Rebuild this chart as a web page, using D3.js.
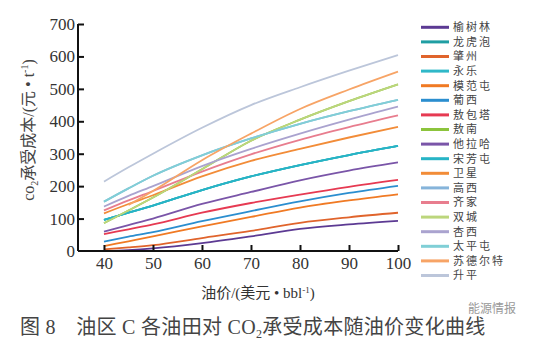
<!DOCTYPE html>
<html><head><meta charset="utf-8">
<script src="https://cdn.jsdelivr.net/npm/d3@7"></script>
<style>
html,body{margin:0;padding:0;background:#fff;}
svg{display:block;}
</style></head>
<body>
<svg id="c" width="545" height="358"></svg>
<script>
// ---- data ----
const prices = [40, 45, 50, 60, 70, 80, 90, 100];
const fieldNames = ["榆树林","龙虎泡","肇州","永乐","模范屯","葡西","敖包塔","敖南","他拉哈","宋芳屯","卫星","高西","齐家","双城","杏西","太平屯","苏德尔特","升平"];
const fieldColors = ["#5c3a93","#1f9ea3","#e0642c","#2fb8c8","#f07a24","#2b8ecf","#e63a52","#8cc43c","#7a55a8","#27b4c6","#f28c38","#86b4da","#e87d8e","#bcd67c","#aaa3cf","#80cfd6","#f7a466","#bcc6da"];
const yushulin   = [0, 3, 8, 24, 45, 68, 82, 93];
const longhupao  = [96, 118, 140, 188, 230, 265, 296, 324];
const zhaozhou   = [5, 11, 18, 40, 62, 87, 104, 118];
const yongle     = [96, 118, 140, 188, 230, 265, 296, 324];
const mofantun   = [15, 30, 45, 76, 105, 134, 156, 175];
const puxi       = [29, 44, 58, 92, 123, 153, 179, 201];
const aobaota    = [52, 67, 82, 118, 148, 174, 198, 219];
const aonan      = [86, 125, 165, 252, 340, 405, 462, 514];
const talaha     = [60, 80, 100, 145, 182, 218, 248, 273];
const songfangtun= [96, 118, 140, 188, 230, 265, 296, 324];
const weixing    = [116, 145, 172, 230, 278, 315, 350, 383];
const gaoxi      = [152, 193, 232, 295, 347, 392, 431, 466];
const qijia      = [125, 156, 185, 245, 298, 343, 382, 418];
const shuangcheng= [86, 125, 165, 252, 340, 405, 462, 514];
const xingxi     = [137, 170, 200, 262, 315, 362, 405, 445];
const taipingtun = [152, 193, 232, 295, 347, 392, 431, 466];
const sudeerte   = [null, 142, 185, 280, 362, 438, 498, 553];
const shengping  = [214, 258, 300, 380, 450, 505, 556, 604];
const allValues = [yushulin,longhupao,zhaozhou,yongle,mofantun,puxi,aobaota,aonan,talaha,songfangtun,weixing,gaoxi,qijia,shuangcheng,xingxi,taipingtun,sudeerte,shengping];
const xTicks = [40,50,60,70,80,90,100];
const yTicks = [0,100,200,300,400,500,600,700];

// ---- chart ----
const svg = d3.select("#c");
const x = d3.scaleLinear().domain([34.7, 100]).range([78, 398]);
const y = d3.scaleLinear().domain([0, 700]).range([251, 24]);

const serif = "Liberation Serif, DejaVu Serif, Times New Roman, Noto Sans CJK SC, serif";
const cjk = "Noto Sans CJK SC, sans-serif";

const line = d3.line()
  .defined(d => d.v !== null)
  .x(d => x(d.p)).y(d => y(d.v))
  .curve(d3.curveMonotoneX);

const series = fieldNames.map((n,i) => ({name:n, color:fieldColors[i], pts: prices.map((p,j)=>({p, v: allValues[i][j]}))}));

svg.append("g").selectAll("path").data(series).join("path")
  .attr("d", d => line(d.pts))
  .attr("fill","none")
  .attr("stroke", d => d.color)
  .attr("stroke-width", 1.8);

// axes
const xAxis = svg.append("g").attr("transform","translate(0,251)")
  .call(d3.axisBottom(x).tickValues(xTicks).tickSize(-6).tickPadding(6).tickSizeOuter(0));
const yAxis = svg.append("g").attr("transform","translate(78,0)")
  .call(d3.axisLeft(y).tickValues(yTicks).tickSize(-6).tickPadding(3).tickSizeOuter(0));
[xAxis, yAxis].forEach(g => {
  g.attr("font-family", serif).attr("font-size", 17);
  g.select(".domain").attr("stroke","#111").attr("stroke-width",2);
  g.selectAll(".tick line").attr("stroke","#111").attr("stroke-width",2);
  g.selectAll(".tick text").attr("fill","#333").attr("font-family",serif).attr("font-size",17);
});
yAxis.selectAll(".tick").filter(d => d===0).select("line").remove();
xAxis.select(".domain").attr("d","M78,0H398");
yAxis.select(".domain").attr("d","M0,251V24");

// y title
const yt = svg.append("text")
  .attr("transform","translate(34,130) rotate(-90)")
  .attr("text-anchor","middle")
  .attr("font-family",serif).attr("font-size",16).attr("fill","#444");
yt.append("tspan").text("co");
yt.append("tspan").attr("dy",4).attr("font-size",10).text("2");
yt.append("tspan").attr("dy",-4).text("承受成本/(元 • t");
yt.append("tspan").attr("dy",-6).attr("font-size",10).text("-1");
yt.append("tspan").attr("dy",6).text(")");

// x title
const xt = svg.append("text").attr("x",258).attr("y",298).attr("text-anchor","middle")
  .attr("font-family",serif).attr("font-size",15).attr("fill","#333");
xt.append("tspan").text("油价/(美元 • bbl");
xt.append("tspan").attr("dy",-5).attr("font-size",9).text("-1");
xt.append("tspan").attr("dy",5).text(")");

// legend
const lg = svg.append("g").selectAll("g").data(series).join("g")
  .attr("transform",(d,i)=>`translate(0,${27.3 + 14.6*i})`);
lg.append("line").attr("x1",421).attr("x2",449).attr("stroke",d=>d.color).attr("stroke-width",3);
lg.append("text").attr("x",453).attr("dy","0.35em").text(d=>d.name)
  .attr("font-family",cjk).attr("font-size",11).style("letter-spacing","2px").attr("fill","#444");

// caption
const cap = svg.append("text").attr("x",20).attr("y",334)
  .attr("font-family",serif).attr("font-size",20).style("letter-spacing","0.3px").attr("fill","#444");
cap.append("tspan").text("图 8　油区 C 各油田对 CO");
cap.append("tspan").attr("dy",4).attr("font-size",12).text("2");
cap.append("tspan").attr("dy",-4).text("承受成本随油价变化曲线");

// watermark
svg.append("text").attr("x",468).attr("y",313).text("能源情报")
  .attr("font-family",cjk).attr("font-size",12).attr("fill","#999");
</script>
</body></html>
